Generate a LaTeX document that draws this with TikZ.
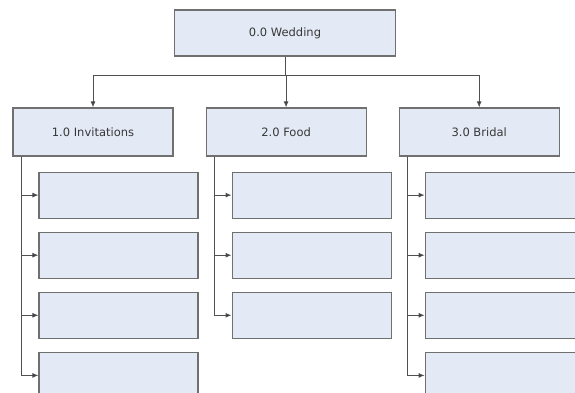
\documentclass[tikz,border=0pt]{standalone}
\usepackage{fontspec}
\setmainfont{DejaVu Sans}
\usetikzlibrary{positioning,arrows.meta}
\definecolor{boxfill}{HTML}{E3EAF6}
\definecolor{boxline}{HTML}{707070}
\definecolor{wire}{HTML}{505050}
\definecolor{txt}{HTML}{383838}

\begin{document}
\begin{tikzpicture}[x=1pt,y=-1pt,
    task/.style={draw=boxline, fill=boxfill, line width=1.1pt, inner sep=0pt,
      minimum width=159pt, minimum height=46pt, text=txt, font=\fontsize{11.5}{13}\selectfont},
    link/.style={draw=wire, line width=1pt, -{Latex[length=6pt,width=5pt,fill=black!85]}}]
    \useasboundingbox[fill=white] (0,0) rectangle (575,392);
    \node[task, minimum width=221pt, minimum height=46pt] (wed) at (285,33) {0.0 Wedding};
    \node[task, minimum width=160pt, minimum height=48pt] (inv) at (93,132) {1.0 Invitations};
    \node[task, minimum width=160pt, minimum height=48pt, right=32pt of inv] (food) {2.0 Food};
    \node[task, minimum width=160pt, minimum height=48pt, right=32pt of food] (brid) {3.0 Bridal};
    % work packages
    \node[task, below right=15pt and 26pt of inv.south west] (inv1) {};
    \node[task, below=13pt of inv1] (inv2) {};
    \node[task, below=13pt of inv2] (inv3) {};
    \node[task, below=13pt of inv3] (inv4) {};
    \node[task, below right=15pt and 26pt of food.south west] (food1) {};
    \node[task, below=13pt of food1] (food2) {};
    \node[task, below=13pt of food2] (food3) {};
    \node[task, below right=15pt and 26pt of brid.south west] (brid1) {};
    \node[task, below=13pt of brid1] (brid2) {};
    \node[task, below=13pt of brid2] (brid3) {};
    \node[task, below=13pt of brid3] (brid4) {};
    % top level
    \coordinate[below=19pt of wed.south] (split);
    \draw[link] (wed.south) -- (split) -| (inv.north);
    \draw[link] (wed.south) -- (split) -| (food.north);
    \draw[link] (wed.south) -- (split) -| (brid.north);
    % branches
    \coordinate[right=9pt of inv.south west] (invbus);
    \coordinate[right=9pt of food.south west] (foodbus);
    \coordinate[right=9pt of brid.south west] (bridbus);
    \draw[link] (invbus) |- (inv1.west);
    \draw[link] (invbus) |- (inv2.west);
    \draw[link] (invbus) |- (inv3.west);
    \draw[link] (invbus) |- (inv4.west);
    \draw[link] (foodbus) |- (food1.west);
    \draw[link] (foodbus) |- (food2.west);
    \draw[link] (foodbus) |- (food3.west);
    \draw[link] (bridbus) |- (brid1.west);
    \draw[link] (bridbus) |- (brid2.west);
    \draw[link] (bridbus) |- (brid3.west);
    \draw[link] (bridbus) |- (brid4.west);
\end{tikzpicture}
\end{document}
